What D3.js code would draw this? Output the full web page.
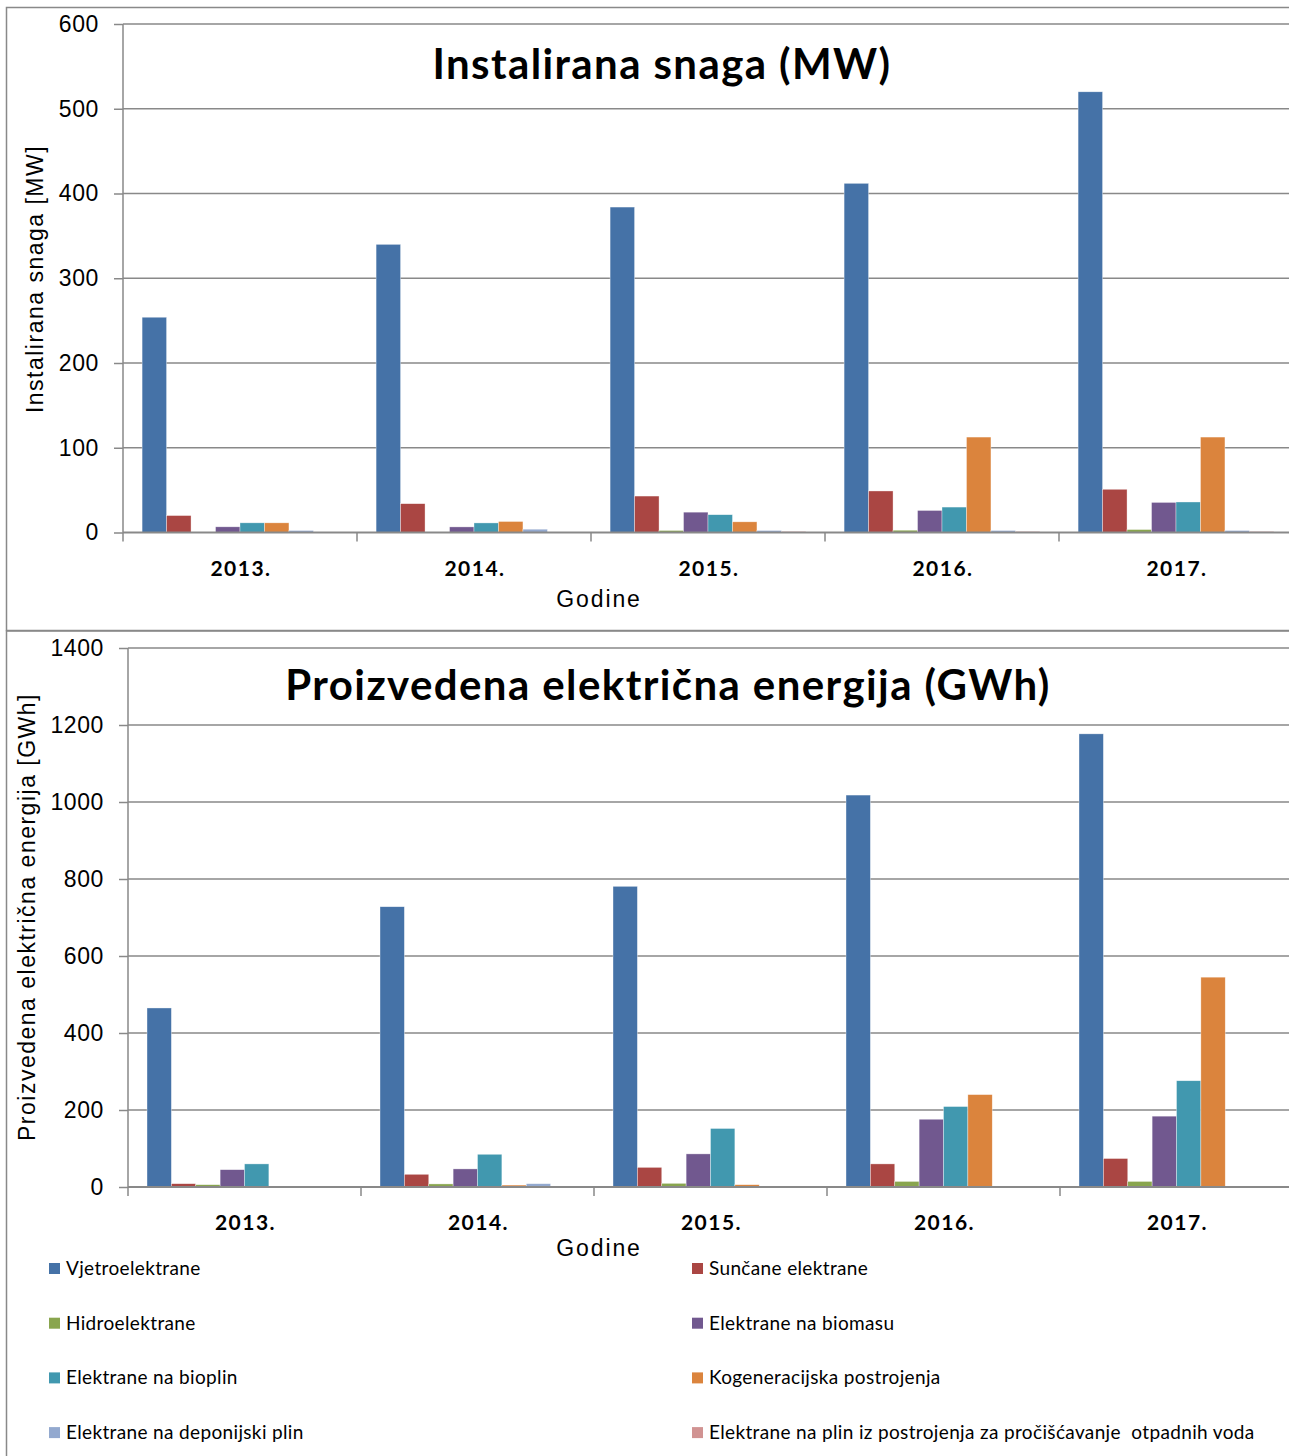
<!DOCTYPE html>
<html>
<head>
<meta charset="utf-8">
<script src="https://cdn.jsdelivr.net/npm/d3@7"></script>
<style>
	body { margin: 0; background: #fff; }
	svg { display: block; }
</style>
</head>
<body>
<svg id="chart" width="1289" height="1456"></svg>
<script>
const years = ["2013.", "2014.", "2015.", "2016.", "2017."];

const seriesNames = [
	"Vjetroelektrane",
	"Sunčane elektrane",
	"Hidroelektrane",
	"Elektrane na biomasu",
	"Elektrane na bioplin",
	"Kogeneracijska postrojenja",
	"Elektrane na deponijski plin",
	"Elektrane na plin iz postrojenja za pročišćavanje  otpadnih voda"
];

const seriesColors = ["#4572a7", "#aa4643", "#89a54e", "#71588f", "#4198af", "#db843d", "#93a9cf", "#d19392"];

// Instalirana snaga (MW), one array per series, one value per year
const powerVjetro  = [254, 340, 384, 412, 520];
const powerSunce   = [20, 34, 43, 49, 51];
const powerHidro   = [0.3, 0.3, 2.4, 2.7, 3.5];
const powerBiomasa = [6.7, 6.6, 24, 26, 35.5];
const powerBioplin = [11.4, 11.3, 21, 30, 36];
const powerKogen   = [11.4, 13, 12.6, 112.6, 112.6];
const powerDepon   = [2.4, 3.9, 2.4, 2.4, 2.4];
const powerPlin    = [0, 0, 1.2, 1.2, 1.2];

// Proizvedena električna energija (GWh)
const energyVjetro  = [465, 728, 781, 1018, 1177];
const energySunce   = [8.6, 33, 51, 60, 74];
const energyHidro   = [6, 8, 9.5, 14.5, 14.5];
const energyBiomasa = [45, 47, 86, 176, 184];
const energyBioplin = [60, 85, 152, 209, 276];
const energyKogen   = [1, 5, 6, 240, 545];
const energyDepon   = [0, 8.6, 0, 0, 0];
const energyPlin    = [0, 0, 0, 0, 0];

const powerSeries = [powerVjetro, powerSunce, powerHidro, powerBiomasa, powerBioplin, powerKogen, powerDepon, powerPlin];
const energySeries = [energyVjetro, energySunce, energyHidro, energyBiomasa, energyBioplin, energyKogen, energyDepon, energyPlin];

const powerTicks = [0, 100, 200, 300, 400, 500, 600];
const energyTicks = [0, 200, 400, 600, 800, 1000, 1200, 1400];

const svg = d3.select("#chart");
const gridColor = "#898989";
const arial = "Liberation Sans, Arial, sans-serif";
const calibri = "Lato, sans-serif";

// frames
svg.append("rect")
	.attr("x", 6.5).attr("y", 7.5)
	.attr("width", 1300).attr("height", 623)
	.attr("fill", "none").attr("stroke", gridColor).attr("stroke-width", 1.5);
svg.append("rect")
	.attr("x", 6.5).attr("y", 631)
	.attr("width", 1300).attr("height", 900)
	.attr("fill", "none").attr("stroke", gridColor).attr("stroke-width", 1.5);

function drawChart(opts) {
	const g = svg.append("g");

	const x0 = d3.scaleBand()
		.domain(years)
		.range([opts.left, opts.left + opts.step * years.length]);

	const x1 = d3.scaleBand()
		.domain(d3.range(seriesNames.length))
		.range([0, x0.bandwidth()])
		.paddingOuter(0.78);

	const y = d3.scaleLinear()
		.domain([0, opts.ticks[opts.ticks.length - 1]])
		.range([opts.bottom, opts.top]);

	// gridlines
	g.append("g").selectAll("line")
		.data(opts.ticks.filter(d => d > 0))
		.enter()
		.append("line")
		.attr("x1", opts.left).attr("x2", 1289)
		.attr("y1", d => y(d)).attr("y2", d => y(d))
		.attr("stroke", gridColor).attr("stroke-width", 1.5);

	// bars
	const groups = g.append("g").selectAll("g")
		.data(years)
		.enter()
		.append("g")
		.attr("transform", d => "translate(" + x0(d) + ",0)");

	groups.selectAll("rect")
		.data((yr, yi) => opts.series.map((s, si) => ({ si: si, v: s[yi] })))
		.enter()
		.append("rect")
		.attr("x", d => x1(d.si))
		.attr("width", x1.bandwidth())
		.attr("y", d => y(d.v))
		.attr("height", d => y(0) - y(d.v))
		.attr("fill", d => seriesColors[d.si])
		.attr("stroke", "#fff").attr("stroke-opacity", 0.6).attr("stroke-width", 0.6);

	// y axis
	const yAxis = g.append("g")
		.attr("transform", "translate(" + opts.left + ",0)")
		.call(d3.axisLeft(y).tickValues(opts.ticks).tickSize(9).tickPadding(15).tickFormat(d3.format("d")));
	yAxis.selectAll("line, path").attr("stroke", gridColor).attr("stroke-width", 1.5);
	yAxis.select("path").attr("d", "M0," + opts.top + "V" + opts.bottom);
	yAxis.selectAll("text")
		.attr("font-family", arial)
		.attr("font-size", 23)
		.attr("letter-spacing", 0.6)
		.attr("fill", "#000");

	// x axis
	const xAxis = g.append("g")
		.attr("transform", "translate(0," + opts.bottom + ")");
	xAxis.append("line")
		.attr("x1", opts.left).attr("x2", 1289)
		.attr("stroke", gridColor).attr("stroke-width", 2);
	xAxis.selectAll(".tk")
		.data(years)
		.enter()
		.append("line")
		.attr("x1", d => x0(d)).attr("x2", d => x0(d))
		.attr("y1", 0).attr("y2", 9)
		.attr("stroke", gridColor).attr("stroke-width", 1.5);
	xAxis.selectAll("text")
		.data(years)
		.enter()
		.append("text")
		.attr("x", d => x0(d) + x0.bandwidth() / 2 + 1)
		.attr("y", 43)
		.attr("text-anchor", "middle")
		.attr("font-family", calibri)
		.attr("font-weight", "bold")
		.attr("font-size", 21)
		.attr("letter-spacing", 1.5)
		.text(d => d);

	// title
	g.append("text")
		.attr("x", opts.titleX).attr("y", opts.titleY)
		.attr("text-anchor", "middle")
		.attr("font-family", calibri)
		.attr("font-weight", "bold")
		.attr("font-size", 42)
		.attr("letter-spacing", 1.4)
		.text(opts.title);

	// axis titles
	g.append("text")
		.attr("x", 599).attr("y", opts.bottom + opts.godineDy)
		.attr("text-anchor", "middle")
		.attr("font-family", arial)
		.attr("font-size", 23)
		.attr("letter-spacing", 1.9)
		.text("Godine");

	g.append("text")
		.attr("transform", "translate(" + opts.yTitleX + "," + opts.yTitleY + ") rotate(-90)")
		.attr("text-anchor", "middle")
		.attr("font-family", arial)
		.attr("font-size", 23)
		.attr("letter-spacing", 1.5)
		.text(opts.yTitle);
}

drawChart({
	series: powerSeries,
	ticks: powerTicks,
	left: 123, step: 234, top: 24, bottom: 532.5, godineDy: 74,
	title: "Instalirana snaga (MW)", titleX: 662, titleY: 79,
	yTitle: "Instalirana snaga [MW]", yTitleX: 43, yTitleY: 279
});

drawChart({
	series: energySeries,
	ticks: energyTicks,
	left: 128, step: 233, top: 648, bottom: 1187, godineDy: 69,
	title: "Proizvedena električna energija (GWh)", titleX: 668, titleY: 700,
	yTitle: "Proizvedena električna energija [GWh]", yTitleX: 35, yTitleY: 917
});

// legend
const legend = svg.append("g");
const legendItems = legend.selectAll("g")
	.data(seriesNames)
	.enter()
	.append("g")
	.attr("transform", (d, i) => "translate(" + (i % 2 === 0 ? 49 : 692) + "," + (1263 + Math.floor(i / 2) * 54.7) + ")");

legendItems.append("rect")
	.attr("width", 11).attr("height", 11)
	.attr("fill", (d, i) => seriesColors[i]);

legendItems.append("text")
	.attr("x", 17).attr("y", 12)
	.attr("font-family", calibri)
	.attr("font-size", 19)
	.attr("letter-spacing", 0.35)
	.style("white-space", "pre")
	.text(d => d);
</script>
</body>
</html>
